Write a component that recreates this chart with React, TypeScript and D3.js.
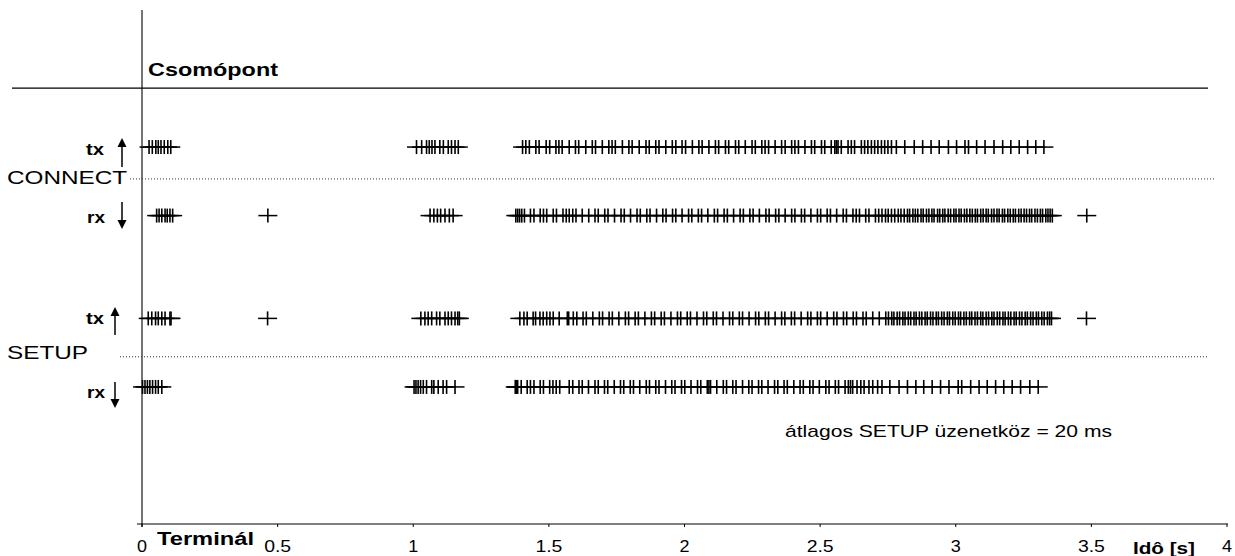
import React from 'react';
import * as d3 from 'd3';

// event times in ms
const txConnect = [
  26, 38, 51, 60, 70, 82, 95, 106,
  1012, 1031, 1049, 1059, 1069, 1080, 1098, 1111, 1129, 1141, 1154, 1166,
  1403, 1415, 1428, 1452, 1464, 1490, 1503, 1526, 1537, 1549, 1575, 1598, 1610, 1636, 1660, 1672,
  1697, 1721, 1733, 1745, 1771, 1795, 1807, 1833, 1858, 1870, 1894, 1906, 1931, 1955, 1968, 1991,
  2004, 2029, 2053, 2065, 2090, 2114, 2126, 2151, 2163, 2188, 2200, 2224, 2249, 2261, 2285, 2297,
  2310, 2334, 2358, 2371, 2395, 2407, 2420, 2444, 2468, 2480, 2505, 2517, 2541, 2554, 2560, 2566,
  2578, 2603, 2615, 2627, 2652, 2664, 2676, 2689, 2701, 2713, 2726, 2738, 2750, 2763, 2781,
  2812, 2847, 2878, 2909, 2939, 2973, 3003, 3034, 3047, 3077, 3108, 3141, 3173, 3203, 3234, 3265,
  3295, 3325,
];

const rxConnect = [
  54, 63, 73, 85, 93, 103, 113,
  464,
  1062, 1076, 1089, 1101, 1117, 1133, 1147,
  1378, 1385, 1392, 1400, 1410, 1432, 1445, 1468, 1480, 1492, 1516, 1528, 1552, 1564, 1575, 1588,
  1600, 1623, 1647, 1670, 1682, 1706, 1718, 1742, 1766, 1778, 1801, 1825, 1837, 1861, 1873, 1897,
  1920, 1932, 1956, 1968, 1991, 2015, 2027, 2051, 2063, 2086, 2110, 2122, 2146, 2158, 2181, 2205,
  2217, 2241, 2253, 2276, 2300, 2312, 2336, 2348, 2371, 2395, 2407, 2431, 2443, 2466, 2490, 2502,
  2526, 2538, 2561, 2585, 2597, 2621, 2633, 2645, 2668, 2680, 2704, 2716, 2728, 2741, 2751, 2763,
  2775, 2788, 2798, 2810, 2822, 2830, 2842, 2851, 2860, 2872, 2880, 2892, 2901, 2912, 2920, 2933,
  2941, 2952, 2960, 2972, 2981, 2993, 3001, 3012, 3020, 3032, 3041, 3052, 3061, 3072, 3080, 3092,
  3101, 3112, 3120, 3132, 3141, 3152, 3160, 3172, 3180, 3192, 3201, 3212, 3220, 3232, 3241, 3252,
  3261, 3272, 3280, 3292, 3301, 3312, 3320, 3332, 3340, 3348, 3356,
  3483,
];

const txSetup = [
  23, 36, 50, 60, 73, 85, 103, 107,
  463,
  1028, 1043, 1055, 1068, 1086, 1098, 1117, 1129, 1141, 1154, 1164, 1170,
  1393, 1408, 1420, 1442, 1451, 1467, 1479, 1492, 1504, 1516, 1538, 1568, 1573, 1590, 1603, 1626,
  1638, 1662, 1686, 1698, 1722, 1734, 1758, 1782, 1794, 1818, 1830, 1854, 1878, 1890, 1914, 1926,
  1950, 1974, 1986, 2010, 2022, 2046, 2070, 2082, 2106, 2118, 2142, 2166, 2178, 2202, 2214, 2238,
  2262, 2274, 2298, 2310, 2334, 2358, 2370, 2394, 2406, 2430, 2454, 2466, 2490, 2502, 2526, 2550,
  2562, 2586, 2598, 2622, 2634, 2658, 2670, 2694, 2718, 2742, 2752, 2764, 2772, 2784, 2793, 2805,
  2813, 2825, 2834, 2846, 2854, 2866, 2875, 2887, 2895, 2907, 2916, 2928, 2936, 2948, 2957, 2969,
  2977, 2989, 2998, 3010, 3018, 3030, 3039, 3051, 3059, 3071, 3080, 3092, 3100, 3112, 3121, 3133,
  3141, 3153, 3162, 3174, 3182, 3194, 3203, 3215, 3223, 3235, 3244, 3256, 3264, 3276, 3285, 3297,
  3305, 3317, 3326, 3338, 3346, 3353,
  3482,
];

const rxSetup = [
  2, 11, 20, 29, 39, 50, 60, 73,
  1003, 1010, 1018, 1027, 1037, 1049, 1068, 1076, 1092, 1110, 1123, 1154,
  1376, 1380, 1385, 1398, 1420, 1432, 1445, 1468, 1480, 1503, 1515, 1527, 1540, 1575, 1588, 1611,
  1623, 1646, 1670, 1682, 1705, 1717, 1741, 1764, 1776, 1800, 1812, 1835, 1859, 1871, 1894, 1906,
  1930, 1953, 1965, 1989, 2001, 2024, 2048, 2060, 2084, 2090, 2096, 2119, 2143, 2155, 2178, 2190,
  2214, 2237, 2249, 2273, 2285, 2308, 2332, 2344, 2367, 2379, 2403, 2426, 2438, 2462, 2474, 2497,
  2521, 2533, 2556, 2568, 2592, 2604, 2612, 2620, 2636, 2650, 2662, 2680, 2694, 2712, 2728, 2757,
  2791, 2822, 2853, 2882, 2913, 2944, 2975, 3009, 3022, 3055, 3086, 3116, 3147, 3177, 3208, 3239,
  3273, 3304,
];

// row levels on the y axis (0..15)
const rows = [
  { key: 'txConnect', level: 11, times: txConnect },
  { key: 'rxConnect', level: 9, times: rxConnect },
  { key: 'txSetup', level: 6, times: txSetup },
  { key: 'rxSetup', level: 4, times: rxSetup },
];

const xTicks = [0, 0.5, 1, 1.5, 2, 2.5, 3, 3.5, 4];
const xTickLabels = ['0', '0.5', '1', '1.5', '2', '2.5', '3', '3.5', '4'];

const W = 1235;
const H = 556;
const FONT = 'Arial, "Liberation Sans", sans-serif';

const x = d3.scaleLinear().domain([0, 4]).range([142, 1227]);
const y = d3.scaleLinear().domain([0, 15]).range([524, 10]);

const Label = ({ x, y, w, size, bold, children }: any) => (
  <text
    x={x}
    y={y}
    textLength={w}
    lengthAdjust="spacingAndGlyphs"
    fontSize={size}
    fontWeight={bold ? 'bold' : 'normal'}
    fontFamily={FONT}
    fill="#000"
  >
    {children}
  </text>
);

const Arrow = ({ x, y1, y2 }: any) => {
  // y1 = tail, y2 = tip
  const dir = y2 < y1 ? 1 : -1;
  const base = y2 + dir * 9;
  return (
    <g>
      <line x1={x} x2={x} y1={y1} y2={base} stroke="#000" strokeWidth={1.5} />
      <polygon points={`${x},${y2} ${x - 4.5},${base} ${x + 4.5},${base}`} fill="#000" />
    </g>
  );
};

export default function App() {
  const y0 = y(0);
  return (
    <svg width={W} height={H} style={{ position: 'absolute', left: 0, top: 0, background: '#fff' }}>
      <rect width={W} height={H} fill="#fff" />

      {/* vertical axis */}
      <line x1={x(0)} x2={x(0)} y1={y(15)} y2={y0 + 3} stroke="#000" strokeWidth={1.1} />
      {/* top node line */}
      <line x1={12} x2={1208} y1={y(12.72)} y2={y(12.72)} stroke="#000" strokeWidth={1.1} />

      {/* dotted separators */}
      <line x1={130} x2={1215} y1={y(10.07)} y2={y(10.07)} stroke="#333" strokeWidth={1} strokeDasharray="1,2" />
      <line x1={120} x2={1207} y1={y(4.88)} y2={y(4.88)} stroke="#333" strokeWidth={1} strokeDasharray="1,2" />

      {/* x axis */}
      <line x1={137} x2={1228} y1={y0} y2={y0} stroke="#000" strokeWidth={1.1} />
      {xTicks.map((t, i) => (
        <g key={t}>
          <line x1={x(t)} x2={x(t)} y1={y0} y2={y0 + 3} stroke="#000" strokeWidth={1} />
          <text
            x={x(t)}
            y={552}
            textAnchor="middle"
            fontSize={16}
            fontFamily={FONT}
            textLength={xTickLabels[i].length === 1 ? 10 : 27}
            lengthAdjust="spacingAndGlyphs"
          >
            {xTickLabels[i]}
          </text>
        </g>
      ))}

      {/* event markers */}
      {rows.map((r) => {
        const cy = y(r.level);
        return (
          <g key={r.key} stroke="#000">
            {r.times.map((ms, i) => {
              const cx = x(ms / 1000);
              return (
                <g key={i}>
                  <line x1={cx - 9.5} x2={cx + 9.5} y1={cy} y2={cy} strokeWidth={1.5} />
                  <line x1={cx} x2={cx} y1={cy - 7} y2={cy + 7} strokeWidth={1.6} />
                </g>
              );
            })}
          </g>
        );
      })}

      {/* labels */}
      <Label x={148} y={76} w={130} size={18} bold>Csomópont</Label>
      <Label x={7} y={184} w={120} size={18}>CONNECT</Label>
      <Label x={7} y={359} w={81} size={18}>SETUP</Label>
      <Label x={86} y={155} w={18} size={17} bold>tx</Label>
      <Label x={87} y={223} w={18} size={17} bold>rx</Label>
      <Label x={86} y={324} w={18} size={17} bold>tx</Label>
      <Label x={87} y={398} w={18} size={17} bold>rx</Label>
      <Label x={157} y={545} w={97} size={18} bold>Terminál</Label>
      <Label x={1133} y={554} w={62} size={16} bold>Idô [s]</Label>
      <Label x={785} y={437} w={327} size={17}>átlagos SETUP üzenetköz = 20 ms</Label>

      <Arrow x={122} y1={167} y2={138} />
      <Arrow x={122} y1={202} y2={229} />
      <Arrow x={115} y1={335} y2={307} />
      <Arrow x={115} y1={382} y2={408} />
    </svg>
  );
}
